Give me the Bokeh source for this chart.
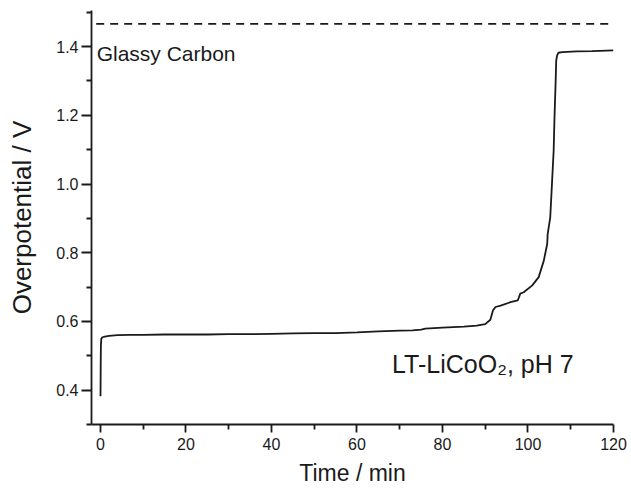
from bokeh.plotting import figure
from bokeh.models import Range1d, FixedTicker, PrintfTickFormatter, Label
from bokeh.embed import file_html
from bokeh.resources import INLINE

# Data
time_min = [0, 0.02, 0.05, 0.1, 0.2, 0.5, 1.0, 2.0, 4.0, 7, 10, 15, 20, 25, 30, 35, 40,
            45, 50, 55, 60, 65, 70, 73, 75, 76, 80, 85, 88, 90, 91.2, 91.8, 92.4,
            93.6, 95.9, 97.6, 98.2, 99.0, 101.0, 102.5, 103.7, 104.5, 104.6, 105.2,
            105.6, 106.0, 106.2, 106.45, 106.6, 106.8, 107.1, 108.0, 111.4, 115, 120]
overpotential = [0.382, 0.40, 0.47, 0.53, 0.550, 0.554, 0.556, 0.558, 0.560, 0.561,
                 0.561, 0.562, 0.562, 0.562, 0.563, 0.563, 0.564, 0.565, 0.566, 0.566,
                 0.568, 0.571, 0.573, 0.574, 0.576, 0.579, 0.582, 0.585, 0.588, 0.592,
                 0.605, 0.632, 0.642, 0.646, 0.656, 0.661, 0.681, 0.685, 0.705, 0.729,
                 0.777, 0.826, 0.854, 0.902, 0.999, 1.097, 1.194, 1.291, 1.359, 1.374,
                 1.382, 1.384, 1.386, 1.387, 1.389]

glassy_carbon_level = 1.466
glassy_x = [-1.0, 120.8]

x_ticks = [0, 20, 40, 60, 80, 100, 120]
x_minor = [10, 30, 50, 70, 90, 110]
y_ticks = [0.4, 0.6, 0.8, 1.0, 1.2, 1.4]
y_minor = [0.3, 0.5, 0.7, 0.9, 1.1, 1.3, 1.5]

FONT = "Liberation Sans"
INK = "#1a1a1a"

p = figure(width=631, height=488, output_backend="svg", toolbar_location=None,
           x_range=Range1d(-2.1, 120), y_range=Range1d(0.3, 1.505),
           min_border_left=91, min_border_right=18, min_border_top=10,
           min_border_bottom=64)
p.outline_line_color = None
p.grid.visible = False
p.background_fill_color = "white"
p.border_fill_color = "white"

p.line(glassy_x, [glassy_carbon_level] * len(glassy_x), line_color=INK,
       line_width=1.8, line_dash="8 6")
p.line(time_min, overpotential, line_color=INK, line_width=1.8)

for ax in (p.xaxis[0], p.yaxis[0]):
    ax.axis_line_color = INK
    ax.axis_line_width = 1.8
    ax.major_tick_line_color = INK
    ax.major_tick_line_width = 1.8
    ax.minor_tick_line_color = INK
    ax.minor_tick_line_width = 1.8
    ax.major_tick_in = 0
    ax.minor_tick_in = 0
    ax.minor_tick_out = 5
    ax.major_label_text_font = FONT
    ax.major_label_text_font_size = "16px"
    ax.major_label_text_color = INK
    ax.axis_label_text_font = FONT
    ax.axis_label_text_font_style = "normal"
    ax.axis_label_text_color = INK

p.xaxis[0].major_tick_out = 8
p.yaxis[0].major_tick_out = 10
p.xaxis[0].axis_label_text_font_size = "23px"
p.yaxis[0].axis_label_text_font_size = "26px"

p.xaxis[0].ticker = FixedTicker(ticks=x_ticks, minor_ticks=x_minor)
p.yaxis[0].ticker = FixedTicker(ticks=y_ticks, minor_ticks=y_minor)
p.yaxis[0].formatter = PrintfTickFormatter(format="%.1f")
p.xaxis[0].axis_label = "Time / min"
p.yaxis[0].axis_label = "Overpotential / V"
p.xaxis[0].major_label_standoff = 5
p.xaxis[0].axis_label_standoff = 7
p.yaxis[0].major_label_standoff = 3
p.yaxis[0].axis_label_standoff = 16

p.add_layout(Label(x=-0.9, y=1.38, text="Glassy Carbon", text_font=FONT,
                   text_font_size="21px", text_color=INK,
                   text_baseline="alphabetic"))
p.add_layout(Label(x=68.2, y=0.475, text="LT-LiCoO\u2082, pH 7", text_font=FONT,
                   text_font_size="25px", text_color=INK,
                   text_baseline="alphabetic"))

open("out.html", "w").write(file_html(p, INLINE))
